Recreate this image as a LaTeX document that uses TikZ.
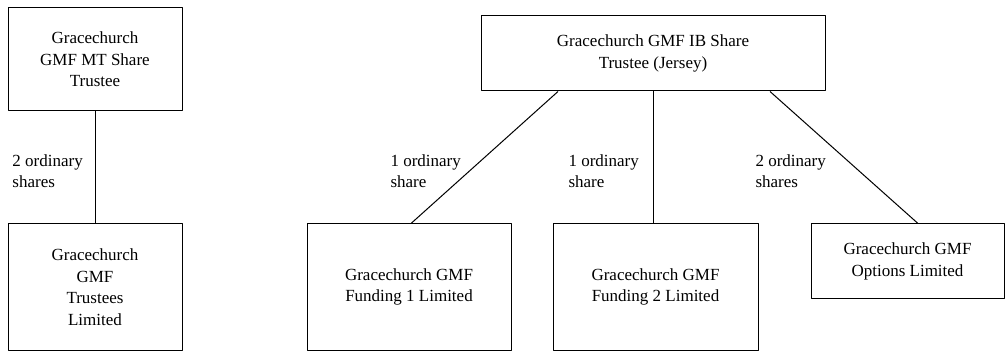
\documentclass[tikz,border=0pt]{standalone}
\usepackage{fontspec}
\setmainfont{Liberation Serif}
\begin{document}
\begin{tikzpicture}[x=1pt,y=-1pt,line join=round,line width=1pt,font=\fontsize{17}{21.5}\selectfont,
	entity/.style={draw,align=center,inner sep=0pt},
	holding/.style={align=left,anchor=west,inner sep=0pt}]
	\useasboundingbox (0,0) rectangle (1006,352);
	% left structure
	\node[entity,minimum width=174pt,minimum height=103pt] (mt) at (95,59.5) {Gracechurch\\GMF MT Share\\Trustee};
	\node[entity,minimum width=174pt,minimum height=126pt] (trl) at (95,287) {Gracechurch\\GMF\\Trustees\\Limited};
	\draw (mt.south) -- (trl.north);
	\node[holding] (lmt) at (12,171) {2 ordinary\\shares};
	% right structure
	\node[entity,minimum width=344pt,minimum height=75pt] (ib) at (653,53.5) {Gracechurch GMF IB Share\\Trustee (Jersey)};
	\node[entity,minimum width=204pt,minimum height=126pt] (fa) at (409,287) {Gracechurch GMF\\Funding 1 Limited};
	\node[entity,minimum width=205pt,minimum height=126pt] (fb) at (655.5,287) {Gracechurch GMF\\Funding 2 Limited};
	\node[entity,minimum width=193pt,minimum height=75pt] (opt) at (907.5,261.5) {Gracechurch GMF\\Options Limited};
	\draw ([xshift=-95pt]ib.south) -- ([xshift=2pt]fa.north);
	\draw (ib.south) -- (ib.south |- fb.north);
	\draw ([xshift=117pt]ib.south) -- ([xshift=10.5pt]opt.north);
	\node[holding] (lfa) at (390,171) {1 ordinary\\share};
	\node[holding] (lfb) at (568,171) {1 ordinary\\share};
	\node[holding] (lopt) at (755,171) {2 ordinary\\shares};
\end{tikzpicture}
\end{document}
